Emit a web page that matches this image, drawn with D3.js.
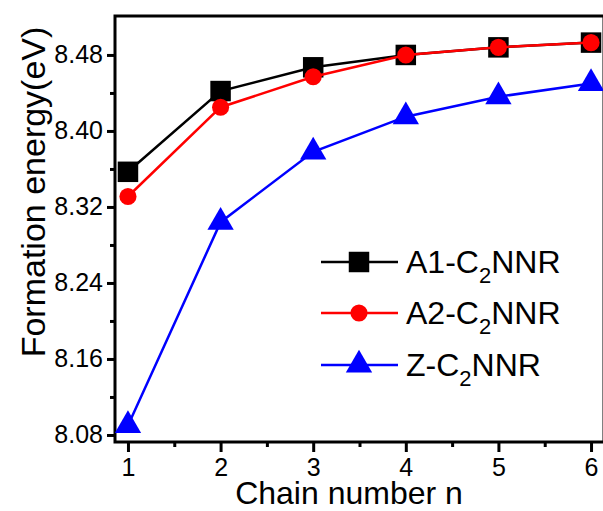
<!DOCTYPE html>
<html>
<head>
<meta charset="utf-8">
<script src="https://cdn.jsdelivr.net/npm/d3@7"></script>
<style>
  html, body { margin: 0; padding: 0; background: #fff; overflow: hidden; }
  svg { display: block; font-family: Arial, "Liberation Sans", sans-serif; }
</style>
</head>
<body>
<svg id="chart" width="603" height="511"></svg>
<script>
// chain number n
const chainN = [1, 2, 3, 4, 5, 6];

// formation energy (eV)
const a1Values = [8.357, 8.442, 8.467, 8.480, 8.488, 8.493];
const a2Values = [8.331, 8.425, 8.457, 8.480, 8.488, 8.493];
const zValues  = [8.090, 8.304, 8.378, 8.415, 8.436, 8.450];

const yTicks = [8.08, 8.16, 8.24, 8.32, 8.40, 8.48];
const yMinor = [8.12, 8.20, 8.28, 8.36, 8.44];
const xMinor = [1.5, 2.5, 3.5, 4.5, 5.5];

const SERIES = [
  { key: 'A1', values: a1Values, color: '#000000', marker: 'square' },
  { key: 'A2', values: a2Values, color: '#ff0000', marker: 'circle' },
  { key: 'Z',  values: zValues,  color: '#0000ff', marker: 'triangle' }
];

const svg = d3.select('#chart');
const plotLeft = 115, plotRight = 604, plotTop = 16, plotBottom = 442;

const x = d3.scaleLinear().domain([0.86, 6.14]).range([plotLeft, plotRight]);
const y = d3.scaleLinear().domain([8.0726, 8.521]).range([plotBottom, plotTop]);

// -----------------------------------------------------------------------------
// FRAME + AXES
// -----------------------------------------------------------------------------

svg.append('rect')
  .attr('x', plotLeft).attr('y', plotTop)
  .attr('width', plotRight - plotLeft).attr('height', plotBottom - plotTop)
  .attr('fill', 'none').attr('stroke', '#000').attr('stroke-width', 3);

const yAxis = svg.append('g').attr('transform', `translate(${plotLeft},0)`)
  .call(d3.axisLeft(y).tickValues(yTicks).tickFormat(d3.format('.2f')).tickSize(8).tickPadding(4));
yAxis.select('.domain').remove();
yAxis.selectAll('line').attr('stroke-width', 3);
yAxis.selectAll('text').attr('font-size', 25).attr('fill', '#000')
  .attr('font-family', 'Arial, "Liberation Sans", sans-serif');

const yAxisMinor = svg.append('g').attr('transform', `translate(${plotLeft},0)`)
  .call(d3.axisLeft(y).tickValues(yMinor).tickFormat('').tickSize(5));
yAxisMinor.select('.domain').remove();
yAxisMinor.selectAll('line').attr('stroke-width', 3);

const xAxis = svg.append('g').attr('transform', `translate(0,${plotBottom})`)
  .call(d3.axisBottom(x).tickValues(chainN).tickFormat(d3.format('d')).tickSize(10).tickPadding(6));
xAxis.select('.domain').remove();
xAxis.selectAll('line').attr('stroke-width', 3);
xAxis.selectAll('text').attr('font-size', 25).attr('fill', '#000')
  .attr('font-family', 'Arial, "Liberation Sans", sans-serif');

const xAxisMinor = svg.append('g').attr('transform', `translate(0,${plotBottom})`)
  .call(d3.axisBottom(x).tickValues(xMinor).tickFormat('').tickSize(5));
xAxisMinor.select('.domain').remove();
xAxisMinor.selectAll('line').attr('stroke-width', 3);

// axis titles
svg.append('text')
  .attr('x', 349).attr('y', 504)
  .attr('text-anchor', 'middle').attr('font-size', 32).attr('fill', '#000')
  .text('Chain number n');

svg.append('text')
  .attr('transform', 'translate(45,192) rotate(-90)')
  .attr('text-anchor', 'middle').attr('font-size', 34).attr('fill', '#000')
  .text('Formation energy(eV)');

// -----------------------------------------------------------------------------
// SERIES
// -----------------------------------------------------------------------------

const symbolFor = {
  square: d3.symbol().type(d3.symbolSquare).size(420),
  circle: d3.symbol().type(d3.symbolCircle).size(230),
  triangle: d3.symbol().type(d3.symbolTriangle).size(300)
};

const plot = svg.append('g');
const line = d3.line().x((d, i) => x(chainN[i])).y(d => y(d));

SERIES.forEach(s => {
  plot.append('path')
    .attr('d', line(s.values))
    .attr('fill', 'none').attr('stroke', s.color).attr('stroke-width', 2.5);
  plot.selectAll(null)
    .data(s.values)
    .enter()
    .append('path')
    .attr('d', symbolFor[s.marker])
    .attr('transform', (d, i) => `translate(${x(chainN[i])},${y(d)})`)
    .attr('fill', s.color);
});

// -----------------------------------------------------------------------------
// LEGEND
// -----------------------------------------------------------------------------

const legendRows = [262, 313, 365];
const legend = svg.append('g');
SERIES.forEach((s, i) => {
  const ly = legendRows[i];
  legend.append('line')
    .attr('x1', 321).attr('x2', 398).attr('y1', ly).attr('y2', ly)
    .attr('stroke', s.color).attr('stroke-width', 2.5);
  legend.append('path')
    .attr('d', symbolFor[s.marker])
    .attr('transform', `translate(359,${ly})`)
    .attr('fill', s.color);
  const t = legend.append('text')
    .attr('x', 406).attr('y', ly + 11)
    .attr('font-size', 32).attr('fill', '#000');
  t.append('tspan').text(s.key + '-C');
  t.append('tspan').attr('font-size', 22).attr('dy', 10).text('2');
  t.append('tspan').attr('dy', -10).text('NNR');
});
</script>
</body>
</html>
